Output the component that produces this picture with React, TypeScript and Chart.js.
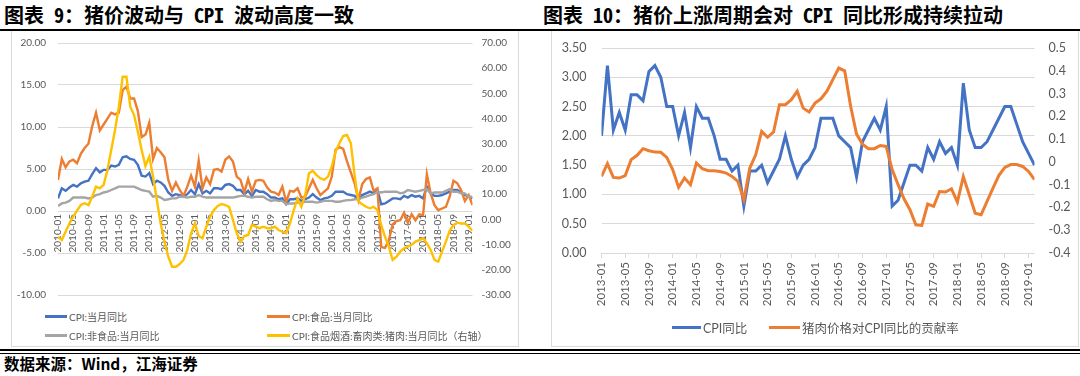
import React, { useEffect, useRef } from "react";
import { Chart, registerables } from "chart.js";
Chart.register(...registerables);

// ---------- helpers ----------
function monthLabels(startYear: number, count: number): string[] {
  const out: string[] = [];
  for (let i = 0; i < count; i++) {
    const y = startYear + Math.floor(i / 12);
    const m = (i % 12) + 1;
    out.push(`${y}-${m < 10 ? "0" + m : m}`);
  }
  return out;
}

// ---------- Chart 9 data (2010-01 .. 2019-02) ----------
const months9 = monthLabels(2010, 110);
const xTicks9 = [0, 4, 8, 12, 16, 20, 24, 28, 32, 36, 40, 44, 48, 52, 56, 60, 64, 68, 72, 76, 80, 84, 88, 92, 96, 100, 104, 108];
const cpi9 = [
  1.5, 2.7, 2.4, 2.8, 3.1, 2.9, 3.3, 3.5, 3.6, 4.4, 5.1, 4.6,
  4.9, 4.9, 5.4, 5.3, 5.5, 6.4, 6.5, 6.2, 6.1, 5.5, 4.2, 4.1,
  4.5, 3.2, 3.6, 3.4, 3.0, 2.2, 1.8, 2.0, 1.9, 1.7, 2.0, 2.5,
  2.0, 3.2, 2.1, 2.4, 2.1, 2.7, 2.7, 2.6, 3.1, 3.2, 3.0, 2.5,
  2.5, 2.0, 2.4, 1.8, 2.5, 2.3, 2.3, 2.0, 1.6, 1.6, 1.4, 1.5,
  0.8, 1.4, 1.4, 1.5, 1.2, 1.4, 1.6, 2.0, 1.6, 1.3, 1.5, 1.6,
  1.8, 2.3, 2.3, 2.3, 2.0, 1.9, 1.8, 1.3, 1.9, 2.1, 2.3, 2.1,
  2.5, 0.8, 0.9, 1.2, 1.5, 1.5, 1.4, 1.8, 1.6, 1.9, 1.7, 1.8,
  1.5, 2.9, 2.1, 1.8, 1.8, 1.9, 2.1, 2.3, 2.5, 2.5, 2.2, 1.9,
  1.7, 1.5,
];
const food9 = [
  3.7, 6.2, 5.2, 5.9, 6.1, 5.7, 6.8, 7.5, 8.0, 10.1, 11.7, 9.6,
  10.3, 11.0, 11.7, 11.5, 11.7, 14.4, 14.8, 13.4, 13.4, 11.9, 8.8, 9.1,
  10.5, 6.2, 7.5, 7.0, 6.4, 3.7, 2.4, 3.4, 2.5, 1.8, 2.9, 4.2,
  2.9, 6.0, 2.7, 4.0, 3.2, 4.9, 5.0, 4.7, 6.1, 6.5, 5.9, 4.1,
  3.7, 2.2, 3.8, 2.3, 3.6, 3.7, 3.6, 2.8, 2.3, 2.2, 1.9, 2.9,
  1.1, 2.4, 2.3, 2.7, 1.6, 1.7, 2.7, 3.7, 2.7, 1.9, 2.3, 2.7,
  4.1, 7.3, 7.6, 7.4, 5.9, 4.6, 3.3, 1.3, 3.2, 3.8, 4.0, 2.4,
  2.7, -4.3, -4.4, -3.5, -1.6, -1.2, -1.1, -0.2, -1.4, -0.4, -1.1, -0.4,
  -0.5, 4.4, 2.1, 0.7, 0.1, 0.3, 0.5, 1.7, 3.6, 3.3, 2.5, 1.2,
  1.9, 0.7,
];
const nonFood9 = [
  0.6, 0.9, 1.0, 1.2, 1.6, 1.6, 1.6, 1.6, 1.5, 1.6, 1.9, 2.0,
  2.2, 2.3, 2.5, 2.7, 2.9, 2.9, 2.9, 2.9, 2.9, 2.7, 2.5, 2.4,
  2.3, 1.7, 1.8, 1.6, 1.3, 1.4, 1.5, 1.5, 1.7, 1.7, 1.6, 1.7,
  1.7, 1.9, 1.7, 1.6, 1.6, 1.6, 1.6, 1.6, 1.6, 1.6, 1.6, 1.7,
  1.8, 1.8, 1.7, 1.6, 1.7, 1.7, 1.7, 1.4, 1.2, 1.3, 1.2, 1.2,
  0.8, 0.9, 0.9, 1.0, 1.0, 1.1, 1.1, 1.1, 1.0, 1.1, 1.2, 1.2,
  1.2, 1.1, 1.1, 1.2, 1.3, 1.3, 1.4, 1.4, 1.6, 1.7, 1.9, 2.0,
  2.3, 2.2, 2.3, 2.3, 2.3, 2.3, 2.1, 2.2, 2.5, 2.4, 2.3, 2.4,
  2.5, 2.6, 2.1, 2.2, 2.2, 2.2, 2.4, 2.6, 2.3, 2.3, 2.1, 2.1,
  1.7, 1.7,
];
const pork9 = [
  -6.9, -8.2, -4.9, -1.6, 1.1, 3.5, 5.7, 6.4, 5.7, 9.0, 13.0, 12.3,
  13.7, 19.6, 27.5, 35.5, 44.7, 56.6, 56.6, 44.7, 41.4, 34.8, 27.5, 21.2,
  24.9, 16.9, 7.7, -1.6, -8.8, -14.8, -18.8, -18.8, -17.7, -16.1, -12.1, -5.5,
  -1.6, -6.6, -7.5, -2.9, 1.1, 3.7, 5.3, 6.1, 5.7, 5.0, -0.2, -5.5,
  -8.8, -6.6, -6.2, -2.2, -2.9, -3.5, -2.9, -3.5, -3.5, -2.9, -4.2, -4.9,
  -5.5, -1.6, 3.7, 8.3, 5.0, 9.7, 18.3, 19.3, 17.6, 16.3, 15.7, 17.0,
  21.0, 26.9, 30.2, 33.1, 33.5, 30.2, 17.6, 7.1, 6.0, 5.0, 4.4, 5.0,
  3.7, -2.3, -6.9, -10.8, -16.1, -14.8, -12.8, -11.5, -10.8, -10.1, -8.8, -8.2,
  -7.5, -9.5, -12.1, -16.1, -16.8, -12.8, -8.8, -4.5, -2.3, -1.3, -1.6, -1.6,
  -2.9, -4.5,
];
const leftTicks9 = [-10, -5, 0, 5, 10, 15, 20];
const rightTicks9 = [-30, -20, -10, 0, 10, 20, 30, 40, 50, 60, 70];
const names9 = [
  "CPI:当月同比",
  "CPI:食品:当月同比",
  "CPI:非食品:当月同比",
  "CPI:食品烟酒:畜肉类:猪肉:当月同比（右轴）",
];

// ---------- Chart 10 data (2013-01 .. 2019-02) ----------
const months10 = monthLabels(2013, 74);
const xTicks10 = [0, 4, 8, 12, 16, 20, 24, 28, 32, 36, 40, 44, 48, 52, 56, 60, 64, 68, 72];
const cpi10 = [
  2.0, 3.2, 2.1, 2.4, 2.1, 2.7, 2.7, 2.6, 3.1, 3.2, 3.0, 2.5,
  2.5, 2.0, 2.4, 1.8, 2.5, 2.3, 2.3, 2.0, 1.6, 1.6, 1.4, 1.5,
  0.8, 1.4, 1.4, 1.5, 1.2, 1.4, 1.6, 2.0, 1.6, 1.3, 1.5, 1.6,
  1.8, 2.3, 2.3, 2.3, 2.0, 1.9, 1.8, 1.3, 1.9, 2.1, 2.3, 2.1,
  2.5, 0.8, 0.9, 1.2, 1.5, 1.5, 1.4, 1.8, 1.6, 1.9, 1.7, 1.8,
  1.5, 2.9, 2.1, 1.8, 1.8, 1.9, 2.1, 2.3, 2.5, 2.5, 2.2, 1.9,
  1.7, 1.5,
];
const porkContrib10 = [
  -0.064, -0.008, -0.068, -0.071, -0.06, 0.01, 0.029, 0.058, 0.049, 0.043, 0.042, 0.02,
  -0.034, -0.112, -0.071, -0.1, -0.005, -0.03, -0.039, -0.039, -0.042, -0.049, -0.064, -0.086,
  -0.166, -0.027, 0.031, 0.134, 0.108, 0.131, 0.251, 0.251, 0.273, 0.31, 0.236, 0.219,
  0.258, 0.277, 0.31, 0.361, 0.412, 0.4, 0.244, 0.122, 0.078, 0.058, 0.058, 0.072,
  0.068, -0.034, -0.1, -0.162, -0.21, -0.276, -0.279, -0.185, -0.195, -0.13, -0.132, -0.118,
  -0.176, -0.064, -0.144, -0.225, -0.232, -0.173, -0.115, -0.059, -0.024, -0.012, -0.012, -0.02,
  -0.042, -0.078,
];
const leftTicks10 = [0, 0.5, 1, 1.5, 2, 2.5, 3, 3.5];
const rightTicks10 = [-0.4, -0.3, -0.2, -0.1, 0, 0.1, 0.2, 0.3, 0.4, 0.5];
const names10 = ["CPI同比", "猪肉价格对CPI同比的贡献率"];

// ---------- styling ----------
const BLUE = "#4472C4";
const ORANGE = "#ED7D31";
const GREY = "#A5A5A5";
const YELLOW = "#FFC000";
const TICK = "#595959";
const GRID = "#D9D9D9";
const CLEAR = "rgba(0,0,0,0)";
const NUMFONT = "Lato, 'Noto Sans CJK SC', sans-serif";
const CJK = "'Noto Sans CJK SC', sans-serif";

const pts = (arr: number[]) => arr.map((v, i) => ({ x: i, y: v }));

function ChartCanvas(props: { left: number; top: number; width: number; height: number; make: () => any }) {
  const ref = useRef<HTMLCanvasElement>(null);
  useEffect(() => {
    const chart = new Chart(ref.current as HTMLCanvasElement, props.make());
    return () => chart.destroy();
  }, []);
  return (
    <canvas
      ref={ref}
      width={props.width}
      height={props.height}
      style={{ position: "absolute", left: props.left, top: props.top, width: props.width, height: props.height }}
    />
  );
}

function config9() {
  const ds = (label: string, data: number[], color: string, axis: string, order: number) => ({
    label,
    data: pts(data),
    borderColor: color,
    backgroundColor: color,
    yAxisID: axis,
    order,
    borderWidth: 2.4,
    pointRadius: 0,
    tension: 0,
  });
  return {
    type: "line",
    data: {
      datasets: [
        ds(names9[0], cpi9, BLUE, "y", 3),
        ds(names9[1], food9, ORANGE, "y", 2),
        ds(names9[2], nonFood9, GREY, "y", 1),
        ds(names9[3], pork9, YELLOW, "y1", 0),
      ],
    },
    options: {
      responsive: false,
      animation: false,
      layout: { padding: { top: 12, bottom: 6, left: 0, right: 0 } },
      plugins: { legend: { display: false }, tooltip: { enabled: false } },
      scales: {
        x: {
          type: "linear",
          axis: "x",
          min: 0,
          max: 109,
          position: { y: 0 },
          grid: { display: false, drawTicks: false },
          border: { display: false },
          afterBuildTicks: (s: any) => {
            s.ticks = xTicks9.map((v) => ({ value: v }));
          },
          ticks: {
            autoSkip: false,
            minRotation: 90,
            maxRotation: 90,
            padding: 3,
            color: TICK,
            font: { family: NUMFONT, size: 10 },
            callback: (v: number) => months9[v],
          },
        },
        y: {
          position: "left",
          min: -10,
          max: 20,
          afterBuildTicks: (s: any) => {
            s.ticks = leftTicks9.map((v) => ({ value: v }));
          },
          afterFit: (s: any) => {
            s.width = 46;
          },
          grid: { color: GRID, lineWidth: 1, drawTicks: true, tickLength: 12, tickColor: CLEAR },
          border: { display: false },
          ticks: {
            padding: 0,
            color: TICK,
            font: { family: NUMFONT, size: 10 },
            callback: (v: number) => v.toFixed(2),
          },
        },
        y1: {
          position: "right",
          min: -30,
          max: 70,
          afterBuildTicks: (s: any) => {
            s.ticks = rightTicks9.map((v) => ({ value: v }));
          },
          afterFit: (s: any) => {
            s.width = 45.5;
          },
          grid: { drawOnChartArea: false, drawTicks: true, tickLength: 9, tickColor: CLEAR, color: CLEAR },
          border: { display: false },
          ticks: {
            padding: 0,
            color: TICK,
            font: { family: NUMFONT, size: 10 },
            callback: (v: number) => v.toFixed(2),
          },
        },
      },
    },
  };
}

function config10() {
  const ds = (label: string, data: number[], color: string, axis: string, order: number) => ({
    label,
    data: pts(data),
    borderColor: color,
    backgroundColor: color,
    yAxisID: axis,
    order,
    borderWidth: 3,
    pointRadius: 0,
    tension: 0,
  });
  return {
    type: "line",
    data: {
      datasets: [ds(names10[0], cpi10, BLUE, "y", 1), ds(names10[1], porkContrib10, ORANGE, "y1", 0)],
    },
    options: {
      responsive: false,
      animation: false,
      layout: { padding: { top: 17, bottom: 0, left: 0, right: 0 } },
      plugins: { legend: { display: false }, tooltip: { enabled: false } },
      scales: {
        x: {
          type: "linear",
          position: "bottom",
          min: 0,
          max: 73,
          afterBuildTicks: (s: any) => {
            s.ticks = xTicks10.map((v) => ({ value: v }));
          },
          afterFit: (s: any) => {
            s.height = 68;
          },
          grid: { drawOnChartArea: false, drawTicks: true, tickLength: 5, color: GRID },
          border: { display: false },
          ticks: {
            autoSkip: false,
            minRotation: 90,
            maxRotation: 90,
            padding: 4,
            color: TICK,
            font: { family: NUMFONT, size: 11.5 },
            callback: (v: number) => months10[v],
          },
        },
        y: {
          position: "left",
          min: 0,
          max: 3.5,
          afterBuildTicks: (s: any) => {
            s.ticks = leftTicks10.map((v) => ({ value: v }));
          },
          afterFit: (s: any) => {
            s.width = 50.5;
          },
          grid: { color: GRID, lineWidth: 1, drawTicks: true, tickLength: 15, tickColor: CLEAR },
          border: { display: false },
          ticks: {
            padding: 0,
            color: TICK,
            font: { family: NUMFONT, size: 12.5 },
            callback: (v: number) => v.toFixed(2),
          },
        },
        y1: {
          position: "right",
          min: -0.4,
          max: 0.5,
          afterBuildTicks: (s: any) => {
            s.ticks = rightTicks10.map((v) => ({ value: v }));
          },
          afterFit: (s: any) => {
            s.width = 43.5;
          },
          grid: { drawOnChartArea: false, drawTicks: true, tickLength: 14, tickColor: CLEAR, color: CLEAR },
          border: { display: false },
          ticks: {
            padding: 0,
            color: TICK,
            font: { family: NUMFONT, size: 12.5 },
            callback: (v: number) => String(Number(v.toFixed(1))),
          },
        },
      },
    },
  };
}

function LegendItem(props: { x: number; y: number; len: number; thick: number; color: string; text: string; size: number }) {
  return (
    <div
      style={{
        position: "absolute",
        left: props.x,
        top: props.y - 10,
        height: 20,
        display: "flex",
        alignItems: "center",
        whiteSpace: "nowrap",
        color: TICK,
        fontFamily: "Lato, 'Noto Sans CJK SC', sans-serif",
        fontSize: props.size,
      }}
    >
      <span style={{ display: "inline-block", width: props.len, height: props.thick, background: props.color, marginRight: 2 }} />
      <span>{props.text}</span>
    </div>
  );
}

export default function App() {
  const titleStyle: React.CSSProperties = {
    position: "absolute",
    top: 4,
    fontFamily: CJK,
    fontWeight: 700,
    fontSize: 20,
    lineHeight: "22px",
    color: "#000",
    whiteSpace: "nowrap",
    fontFeatureSettings: '"hwid"',
  };
  return (
    <div style={{ position: "absolute", left: 0, top: 0, width: 1080, height: 376, background: "#fff", overflow: "hidden" }}>
      <div style={{ ...titleStyle, left: 4 }}>图表 9：猪价波动与 CPI 波动高度一致</div>
      <div style={{ ...titleStyle, left: 543 }}>图表 10：猪价上涨周期会对 CPI 同比形成持续拉动</div>
      <div style={{ position: "absolute", left: 0, top: 29, width: 1080, height: 2, background: "#000" }} />

      <div style={{ position: "absolute", left: 11, top: 31, width: 506, height: 315, border: `1px solid ${GRID}`, borderTop: "none" }} />
      <div style={{ position: "absolute", left: 551, top: 31, width: 526, height: 315, border: `1px solid ${GRID}`, borderTop: "none" }} />

      <ChartCanvas left={12} top={31} width={506} height={270} make={config9} />
      <ChartCanvas left={551} top={31} width={527} height={290} make={config10} />

      <LegendItem x={45} y={316} len={22} thick={3} color={BLUE} text={names9[0]} size={10} />
      <LegendItem x={267} y={316} len={23} thick={3} color={ORANGE} text={names9[1]} size={10} />
      <LegendItem x={45} y={335} len={22} thick={3} color={GREY} text={names9[2]} size={10} />
      <LegendItem x={267} y={335} len={23} thick={3} color={YELLOW} text={names9[3]} size={10} />

      <LegendItem x={672} y={327} len={29} thick={3} color={BLUE} text={names10[0]} size={12.5} />
      <LegendItem x={769} y={327} len={31} thick={3} color={ORANGE} text={names10[1]} size={12.5} />

      <div style={{ position: "absolute", left: 0, top: 349, width: 1080, height: 2, background: "#000" }} />
      <div style={{ position: "absolute", left: 0, top: 353, width: 1080, height: 1, background: "#000" }} />

      <div
        style={{
          position: "absolute",
          left: 4,
          top: 353,
          fontFamily: CJK,
          fontWeight: 700,
          fontSize: 15.5,
          lineHeight: "20px",
          color: "#000",
          whiteSpace: "nowrap",
        }}
      >
        数据来源：Wind，江海证券
      </div>
    </div>
  );
}
